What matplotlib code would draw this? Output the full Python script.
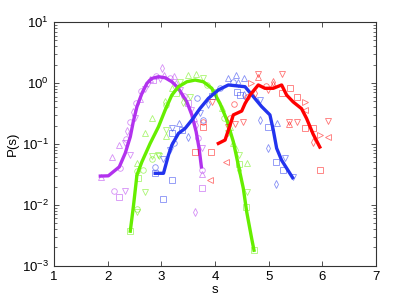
import numpy as np
import matplotlib
matplotlib.use("Agg")
import matplotlib.pyplot as plt

plt.rcParams['font.family'] = ['Liberation Sans', 'DejaVu Sans']

# thick curves
purple_x = [1.864, 2.013, 2.217, 2.329, 2.422, 2.478, 2.546, 2.639, 2.732, 2.825, 2.948, 3.072,
            3.197, 3.314, 3.476, 3.569, 3.649, 3.704, 3.747]
purple_y = [0.0297, 0.030, 0.042, 0.071, 0.131, 0.232, 0.408, 0.677, 0.99, 1.19, 1.27, 1.22,
            1.05, 0.83, 0.49, 0.30, 0.159, 0.085, 0.042]

green_x = [2.422, 2.483, 2.546, 2.639, 2.792, 2.948, 3.072, 3.197, 3.320, 3.476, 3.630, 3.784,
           3.941, 4.095, 4.219, 4.342, 4.435, 4.528, 4.591, 4.684, 4.727]
green_y = [0.0037, 0.0099, 0.0309, 0.051, 0.102, 0.192, 0.36, 0.635, 0.87, 1.05, 1.12, 1.05,
           0.82, 0.46, 0.25, 0.109, 0.045, 0.0187, 0.0077, 0.0028, 0.0018]

blue_x = [2.887, 3.041, 3.134, 3.197, 3.320, 3.444, 3.569, 3.723, 3.877, 4.063, 4.249, 4.405,
          4.56, 4.714, 4.870, 5.024, 5.086, 5.149, 5.242, 5.335, 5.446]
blue_y = [0.033, 0.033, 0.066, 0.096, 0.149, 0.18, 0.247, 0.384, 0.56, 0.77, 0.93, 0.90,
          0.87, 0.60, 0.41, 0.30, 0.17, 0.085, 0.054, 0.040, 0.028]

red_x = [4.063, 4.188, 4.281, 4.342, 4.498, 4.56, 4.652, 4.807, 4.931, 5.086, 5.242, 5.335,
         5.457, 5.613, 5.706, 5.829, 5.953]
red_y = [0.102, 0.116, 0.204, 0.30, 0.347, 0.46, 0.635, 0.93, 0.82, 0.82, 0.93, 0.635,
         0.49, 0.38, 0.263, 0.145, 0.089]

# scattered samples (x, y, marker)
purple_pts = [(2.082, 0.062, '^'), (2.204, 0.096, '^'), (2.422, 0.066, 'v'), (2.223, 0.040, 'o'),
              (2.111, 0.017, 'o'), (2.217, 0.0133, 's'), (2.329, 0.017, 'v'), (1.883, 0.0286, '^'),
              (2.348, 0.12, 'o'), (2.366, 0.163, 'd'), (2.329, 0.103, 'v'), (2.422, 0.229, 'o'),
              (2.515, 0.266, 'v'), (2.478, 0.334, 'd'), (2.533, 0.47, 'o'), (2.608, 0.546, '^'),
              (2.626, 0.74, 'o'), (2.70, 0.80, 'v'), (2.756, 1.0, 'd'), (2.794, 1.16, '^'),
              (2.849, 1.12, 's'), (2.905, 1.30, 'o'), (3.011, 1.74, 'd'), (3.054, 1.35, '^'),
              (2.98, 1.16, 'v'), (3.165, 1.21, 'o'), (3.24, 1.30, '^'), (3.277, 0.96, 'd'),
              (3.351, 0.77, 'v'), (3.426, 0.61, 'o'), (3.50, 0.47, 's'), (3.556, 0.36, 'v'),
              (3.61, 0.266, '^'), (3.649, 0.204, 'd'), (3.686, 0.125, 'o'), (3.755, 0.085, 'v'),
              (3.755, 0.037, 'o'), (3.755, 0.032, '^'), (3.755, 0.0187, 's'), (3.630, 0.0077, 'd')]

green_pts = [(2.546, 0.048, '^'), (2.546, 0.036, 'o'), (2.571, 0.0275, 's'), (2.664, 0.037, 'o'),
             (2.546, 0.0077, 'v'), (2.546, 0.0085, 'o'), (2.688, 0.0164, 'v'), (2.825, 0.063, 'v'),
             (2.825, 0.0565, 'o'), (2.966, 0.063, 'v'), (2.688, 0.149, '^'), (2.825, 0.263, '^'),
             (3.091, 0.169, 'v'), (3.091, 0.135, '^'), (2.937, 0.066, 'v'), (3.072, 0.49, 'd'),
             (3.091, 0.435, 'o'), (3.203, 0.83, '^'), (3.277, 0.685, 's'), (3.351, 1.04, 'v'),
             (3.506, 1.35, '^'), (3.649, 1.39, '^'), (3.773, 1.19, 'v'), (3.537, 0.60, 'v'),
             (3.413, 0.49, 'd'), (3.853, 0.93, 'o'), (3.983, 0.71, 's'), (4.126, 0.384, '^'),
             (4.281, 0.192, '^'), (4.169, 0.266, 'o'), (4.243, 0.151, 'v'), (4.342, 0.102, '^'),
             (4.392, 0.079, 'd'), (4.454, 0.066, 'v'), (4.448, 0.047, 's'), (4.597, 0.048, '^'),
             (4.448, 0.037, 'd'), (4.591, 0.0164, 'v'), (4.578, 0.0092, 's'), (4.727, 0.0018, 's'),
             (2.422, 0.0037, 's')]

blue_pts = [(2.887, 0.033, 's'), (2.887, 0.042, 'o'), (3.041, 0.056, 'v'), (3.197, 0.0255, 's'),
            (3.041, 0.0125, 's'), (3.165, 0.079, 'v'), (3.240, 0.103, 'o'), (3.197, 0.149, 's'),
            (3.197, 0.182, 'v'), (3.338, 0.218, '^'), (3.506, 0.131, 'd'), (3.388, 0.169, 's'),
            (3.662, 0.56, 'o'), (3.784, 0.247, 'o'), (3.723, 0.32, 'v'), (3.872, 0.45, 'd'),
            (3.946, 0.61, 's'), (4.095, 0.83, 'o'), (4.249, 1.19, '^'), (4.392, 1.35, '^'),
            (4.541, 1.19, '^'), (4.435, 0.99, 'd'), (4.336, 1.04, 'o'), (4.405, 0.70, 's'),
            (4.467, 0.635, 's'), (4.541, 0.635, 'd'), (4.838, 0.526, 'v'), (4.838, 0.247, 'd'),
            (5.149, 0.218, '^'), (4.993, 0.192, 's'), (4.993, 0.085, 'd'), (5.303, 0.058, 'v'),
            (5.136, 0.050, 's'), (5.271, 0.038, 's'), (5.136, 0.022, 'd'), (5.446, 0.0286, 'v')]

red_pts = [(3.784, 0.192, 's'), (3.784, 0.232, 'o'), (3.630, 0.0745, 's'), (3.928, 0.073, 's'),
           (3.941, 0.48, 'v'), (4.206, 0.051, '<'), (3.909, 0.026, '<'), (4.355, 0.46, 'o'),
           (4.374, 0.21, 'v'), (4.249, 0.192, 'v'), (4.281, 0.266, 'o'), (4.528, 0.232, 'v'),
           (4.665, 0.99, '>'), (4.807, 1.41, 'v'), (4.807, 1.25, '^'), (4.597, 0.59, 'o'),
           (4.745, 0.685, 'd'), (5.086, 1.05, 'd'), (4.950, 0.89, 'o'), (4.987, 0.77, 'v'),
           (5.242, 1.41, 'v'), (5.086, 0.96, '^'), (5.242, 0.68, 's'), (5.532, 0.60, 's'),
           (5.675, 0.49, '>'), (5.675, 0.36, '<'), (5.383, 0.232, 'v'), (5.383, 0.212, '^'),
           (5.532, 0.232, 'v'), (6.108, 0.238, 'v'), (5.675, 0.185, 's'), (5.818, 0.185, 's'),
           (5.953, 0.14, '>'), (6.108, 0.128, '<'), (5.818, 0.109, 'd'), (5.953, 0.037, 's'),
           (5.394, 0.83, 's')]

series = [
    (purple_x, purple_y, purple_pts, '#b232ee'),
    (green_x, green_y, green_pts, '#66ee00'),
    (blue_x, blue_y, blue_pts, '#2233ee'),
    (red_x, red_y, red_pts, '#ff0000'),
]

fig = plt.figure(figsize=(4.15, 2.99), dpi=100)
ax = fig.add_axes([0.130, 0.111, 0.776, 0.815])

for lx, ly, pts, col in series:
    for px, py, m in pts:
        ax.plot(px, py, linestyle='none', marker=m, markersize=4, markerfacecolor='none',
                markeredgecolor=col, markeredgewidth=0.6, alpha=0.55)
    ax.plot(lx, ly, color=col, linewidth=2.4, solid_joinstyle='round')

ax.set_yscale('log')
ax.set_xlim(1, 7)
ax.set_ylim(1e-3, 1e1)
ax.set_xticks([1, 2, 3, 4, 5, 6, 7])
ax.set_xlabel('s', fontsize=9.5, labelpad=1)
ax.set_ylabel('P(s)', fontsize=9.5, labelpad=2)
ax.tick_params(which='both', direction='in', top=True, right=True, labelsize=9.5, color='#333333')
ax.tick_params(which='major', length=3.5, width=0.6)
ax.tick_params(which='minor', length=2, width=0.5)
for sp in ax.spines.values():
    sp.set_linewidth(0.8)
    sp.set_color('#333333')

fig.savefig('out.png', dpi=100)
